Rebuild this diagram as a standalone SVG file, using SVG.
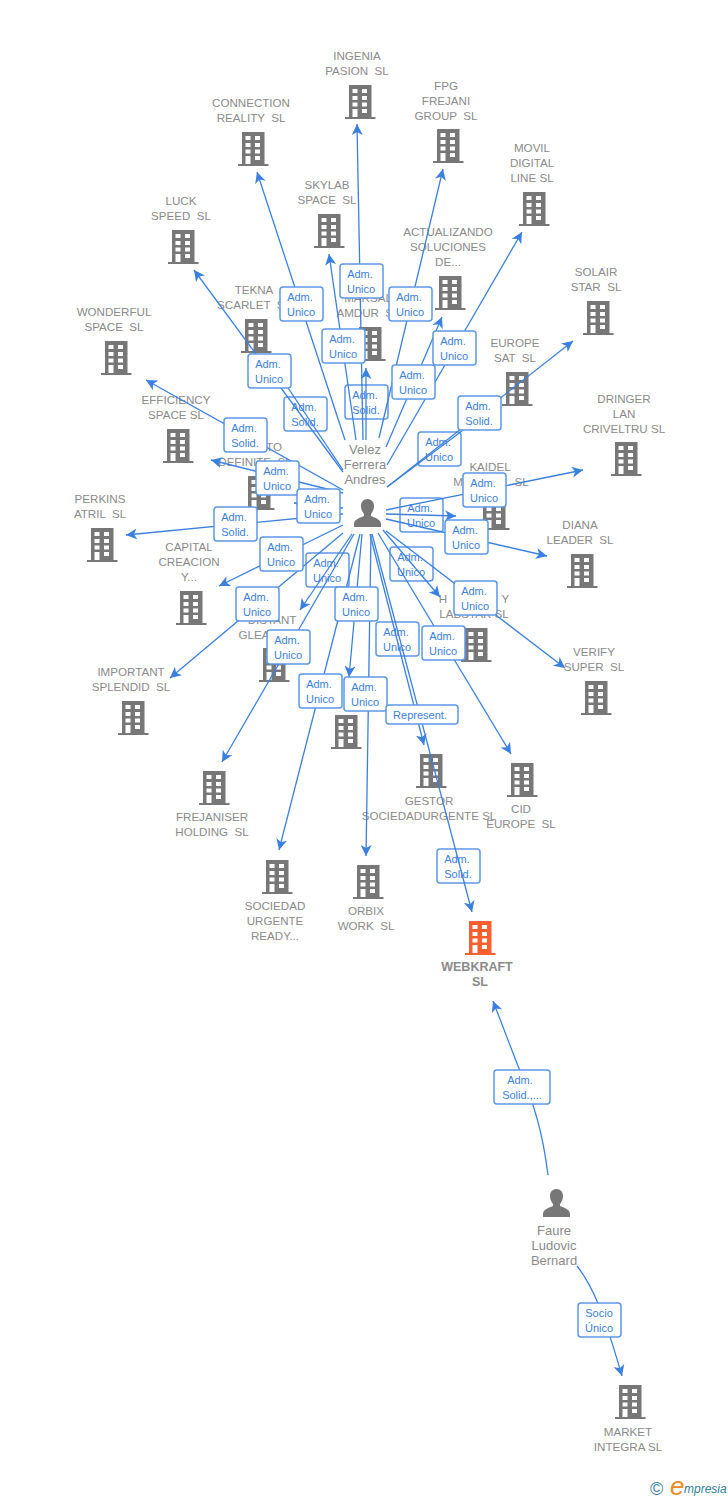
<svg xmlns="http://www.w3.org/2000/svg" width="728" height="1500" viewBox="0 0 728 1500">
<style>
.t{font-family:"Liberation Sans",Arial,sans-serif;font-size:11.6px;fill:#8a8a8a;text-anchor:middle;white-space:pre}
.b{font-weight:bold;font-size:12.5px}
.p{font-size:13px}
.c{fill:none;stroke:#3b80e0;stroke-width:1.3;marker-end:url(#a)}
.n{fill:none;stroke:#3b80e0;stroke-width:1.3}
.l rect{fill:#fff;stroke:#5c98e8;stroke-width:1.5}
.l text{font-family:"Liberation Sans",Arial,sans-serif;font-size:11px;fill:#3b80e0;text-anchor:middle;white-space:pre}
</style>
<defs>
<marker id="a" markerUnits="userSpaceOnUse" markerWidth="14" markerHeight="14" refX="11" refY="6" orient="auto"><path d="M11 6L0 0.5L3 6L0 11.500z" fill="#3b80e0"/></marker>
<symbol id="bd" overflow="visible"><path fill="currentColor" d="M-11 0h22.500v32h4v2h-30.500v-2h4z"/><path fill="#fff" d="M-7.500 4h5v4h-5zM2 4h5v4h-5zM-7.500 11h5v4h-5zM2 11h5v4h-5zM-7.500 17.500h5v4h-5zM2 17.500h5v4h-5zM-7.500 24h5v8h-5zM2 24h5v4h-5z"/></symbol>
<symbol id="pn" overflow="visible"><path fill="#777" d="M0 0c4 0 6.500 3 6.500 7c0 3.500-1.500 6-3 8v2c3 1.500 10 3 10 8v3h-27v-3c0-5 7-6.500 10-8v-2c-1.500-2-3-4.500-3-8c0-4 2.500-7 6.500-7z"/></symbol>
</defs>
<g id="nodes" color="#777">
<g id="n1"><use href="#bd" x="360" y="85"/><text class="t" x="357" y="60">INGENIA</text><text class="t" x="357" y="75">PASION  SL</text></g>
<g id="n2"><use href="#bd" x="253" y="132"/><text class="t" x="251" y="107">CONNECTION</text><text class="t" x="251" y="122">REALITY  SL</text></g>
<g id="n3"><use href="#bd" x="448" y="129"/><text class="t" x="446" y="90">FPG</text><text class="t" x="446" y="105">FREJANI</text><text class="t" x="446" y="120">GROUP  SL</text></g>
<g id="n4"><use href="#bd" x="534" y="192"/><text class="t" x="532" y="152">MOVIL</text><text class="t" x="532" y="167">DIGITAL</text><text class="t" x="532" y="182">LINE SL</text></g>
<g id="n5"><use href="#bd" x="329" y="214"/><text class="t" x="327" y="189">SKYLAB</text><text class="t" x="327" y="204">SPACE  SL</text></g>
<g id="n6"><use href="#bd" x="450" y="276"/><text class="t" x="448" y="236">ACTUALIZANDO</text><text class="t" x="448" y="251">SOLUCIONES</text><text class="t" x="448" y="266">DE...</text></g>
<g id="n7"><use href="#bd" x="183" y="230"/><text class="t" x="181" y="205">LUCK</text><text class="t" x="181" y="220">SPEED  SL</text></g>
<g id="n8"><use href="#bd" x="598" y="301"/><text class="t" x="596" y="276">SOLAIR</text><text class="t" x="596" y="291">STAR  SL</text></g>
<g id="n9"><use href="#bd" x="256" y="319"/><text class="t" x="254" y="294">TEKNA</text><text class="t" x="254" y="309">SCARLET  SL</text></g>
<g id="n10"><use href="#bd" x="370" y="327"/><text class="t" x="368" y="302">MARSAL</text><text class="t" x="368" y="317">AMDUR  SL</text></g>
<g id="n11"><use href="#bd" x="116" y="341"/><text class="t" x="114" y="316">WONDERFUL</text><text class="t" x="114" y="331">SPACE  SL</text></g>
<g id="n12"><use href="#bd" x="517" y="372"/><text class="t" x="515" y="347">EUROPE</text><text class="t" x="515" y="362">SAT  SL</text></g>
<g id="n13"><use href="#bd" x="178" y="429"/><text class="t" x="176" y="404">EFFICIENCY</text><text class="t" x="176" y="419">SPACE SL</text></g>
<g id="n14"><use href="#bd" x="626" y="442"/><text class="t" x="624" y="403">DRINGER</text><text class="t" x="624" y="418">LAN</text><text class="t" x="624" y="433">CRIVELTRU SL</text></g>
<g id="n15"><use href="#bd" x="259" y="476"/><text class="t" x="274" y="451">TO</text><text class="t" x="255" y="466">DEFINITE  SL</text></g>
<g id="n16"><use href="#bd" x="494" y="496"/><text class="t" x="490" y="471">KAIDEL</text><text class="t" x="491" y="486">M                SL</text></g>
<g id="n17"><use href="#bd" x="102" y="528"/><text class="t" x="100" y="503">PERKINS</text><text class="t" x="100" y="518">ATRIL  SL</text></g>
<g id="n18"><use href="#bd" x="582" y="554"/><text class="t" x="580" y="529">DIANA</text><text class="t" x="580" y="544">LEADER  SL</text></g>
<g id="n19"><use href="#bd" x="191" y="591"/><text class="t" x="189" y="551">CAPITAL</text><text class="t" x="189" y="566">CREACION</text><text class="t" x="189" y="581">Y...</text></g>
<g id="n20"><use href="#bd" x="476" y="628"/><text class="t" x="474" y="603">H                 Y</text><text class="t" x="474" y="618">LABSTAR SL</text></g>
<g id="n21"><use href="#bd" x="274" y="648"/><text class="t" x="272" y="624">DISTANT</text><text class="t" x="254" y="639">GLEA</text></g>
<g id="n22"><use href="#bd" x="133" y="701"/><text class="t" x="131" y="676">IMPORTANT</text><text class="t" x="131" y="691">SPLENDID  SL</text></g>
<g id="n23"><use href="#bd" x="596" y="681"/><text class="t" x="594" y="656">VERIFY</text><text class="t" x="594" y="671">SUPER  SL</text></g>
<g id="n24"><use href="#bd" x="346" y="715"/></g>
<g id="n25"><use href="#bd" x="431" y="754"/><text class="t" x="429" y="805">GESTOR</text><text class="t" x="429" y="820">SOCIEDADURGENTE SL</text></g>
<g id="n26"><use href="#bd" x="522" y="763"/><text class="t" x="521" y="813">CID</text><text class="t" x="521" y="828">EUROPE  SL</text></g>
<g id="n27"><use href="#bd" x="214" y="771"/><text class="t" x="212" y="821">FREJANISER</text><text class="t" x="212" y="836">HOLDING  SL</text></g>
<g id="n28"><use href="#bd" x="277" y="860"/><text class="t" x="275" y="910">SOCIEDAD</text><text class="t" x="275" y="925">URGENTE</text><text class="t" x="275" y="940">READY...</text></g>
<g id="n29"><use href="#bd" x="368" y="865"/><text class="t" x="366" y="915">ORBIX</text><text class="t" x="366" y="930">WORK  SL</text></g>
<g id="n30" color="#ff5f2e"><use href="#bd" x="480" y="921"/><text class="t b" x="477" y="971">WEBKRAFT</text><text class="t b" x="480" y="986">SL</text></g>
<g id="n31"><use href="#bd" x="630" y="1385"/><text class="t" x="628" y="1436">MARKET</text><text class="t" x="628" y="1451">INTEGRA SL</text></g>
<g id="p1"><use href="#pn" x="367.500" y="499"/><text class="t p" x="365" y="454">Velez</text><text class="t p" x="365" y="469">Ferrera</text><text class="t p" x="365" y="484">Andres</text></g>
<g id="p2"><use href="#pn" x="556.500" y="1189"/><text class="t p" x="554" y="1235">Faure</text><text class="t p" x="554" y="1250">Ludovic</text><text class="t p" x="554" y="1265">Bernard</text></g>
</g>
<g id="labels-under" class="l">
<g transform="translate(284,397)"><rect width="43" height="34" rx="3"/><text x="20" y="14">Adm.</text><text x="21" y="29">Solid.</text></g>
<g transform="translate(345,385)"><rect width="43" height="34" rx="3"/><text x="20" y="14">Adm.</text><text x="21" y="29">Solid.</text></g>
<g transform="translate(418,432)"><rect width="43" height="34" rx="3"/><text x="20" y="14">Adm.</text><text x="21" y="29">Unico</text></g>
<g transform="translate(400,498)"><rect width="43" height="34" rx="3"/><text x="20" y="14">Adm.</text><text x="21" y="29">Unico</text></g>
<g transform="translate(306,553)"><rect width="43" height="34" rx="3"/><text x="20" y="14">Adm.</text><text x="21" y="29">Unico</text></g>
<g transform="translate(390,547)"><rect width="43" height="34" rx="3"/><text x="20" y="14">Adm.</text><text x="21" y="29">Unico</text></g>
<g transform="translate(376,622)"><rect width="43" height="34" rx="3"/><text x="20" y="14">Adm.</text><text x="21" y="29">Unico</text></g>
<g transform="translate(437,849)"><rect width="43" height="34" rx="3"/><text x="20" y="14">Adm.</text><text x="21" y="29">Solid.</text></g>
</g>
<g id="connectors">
<path class="c" d="M363 440L357 124"/>
<path class="c" d="M345 440L257 172"/>
<path class="c" d="M356 440L329 254"/>
<path class="c" d="M379 438L443 169"/>
<path class="c" d="M387 465L522 232"/>
<path class="c" d="M386 447L442 317"/>
<path class="c" d="M366 440V368"/>
<path class="c" d="M343 472L194 270"/>
<path class="n" d="M343 470L268 358"/>
<path class="c" d="M343 490L146 380"/>
<path class="c" d="M343 493L211 460"/>
<path class="c" d="M343 508L294 503"/>
<path class="c" d="M387 487L573 341"/>
<path class="n" d="M387 487L490 410"/>
<path class="c" d="M386 510L583 470"/>
<path class="c" d="M386 514L456 516"/>
<path class="c" d="M386 519L547 556"/>
<path class="c" d="M343 514L126 535"/>
<path class="c" d="M343 525L219 586"/>
<path class="c" d="M343 533L170 678"/>
<path class="c" d="M352 534L300 610"/>
<path class="c" d="M354 534L222 762"/>
<path class="c" d="M360 534L279 850"/>
<path class="c" d="M362 534L349 677"/>
<path class="c" d="M371 534L366 856"/>
<path class="c" d="M370 534L424 745"/>
<path class="c" d="M372 534L472 912"/>
<path class="c" d="M383 530L440 597"/>
<path class="c" d="M378 533L511 754"/>
<path class="c" d="M386 531L565 668"/>
<path class="c" d="M548 1175C543 1135 535 1105 518 1066L493 1001"/>
<path class="c" d="M577 1266C592 1285 603 1310 622 1376"/>
</g>
<g id="labels-over" class="l">
<g transform="translate(340,264)"><rect width="43" height="34" rx="3"/><text x="20" y="14">Adm.</text><text x="21" y="29">Unico</text></g>
<g transform="translate(280,287)"><rect width="43" height="34" rx="3"/><text x="20" y="14">Adm.</text><text x="21" y="29">Unico</text></g>
<g transform="translate(389,287)"><rect width="43" height="34" rx="3"/><text x="20" y="14">Adm.</text><text x="21" y="29">Unico</text></g>
<g transform="translate(322,329)"><rect width="43" height="34" rx="3"/><text x="20" y="14">Adm.</text><text x="21" y="29">Unico</text></g>
<g transform="translate(433,331)"><rect width="43" height="34" rx="3"/><text x="20" y="14">Adm.</text><text x="21" y="29">Unico</text></g>
<g transform="translate(248,354)"><rect width="43" height="34" rx="3"/><text x="20" y="14">Adm.</text><text x="21" y="29">Unico</text></g>
<g transform="translate(392,365)"><rect width="43" height="34" rx="3"/><text x="20" y="14">Adm.</text><text x="21" y="29">Unico</text></g>
<g transform="translate(458,396)"><rect width="43" height="34" rx="3"/><text x="20" y="14">Adm.</text><text x="21" y="29">Solid.</text></g>
<g transform="translate(224,418)"><rect width="43" height="34" rx="3"/><text x="20" y="14">Adm.</text><text x="21" y="29">Solid.</text></g>
<g transform="translate(256,461)"><rect width="43" height="34" rx="3"/><text x="20" y="14">Adm.</text><text x="21" y="29">Unico</text></g>
<g transform="translate(297,489)"><rect width="43" height="34" rx="3"/><text x="20" y="14">Adm.</text><text x="21" y="29">Unico</text></g>
<g transform="translate(463,473)"><rect width="43" height="34" rx="3"/><text x="20" y="14">Adm.</text><text x="21" y="29">Unico</text></g>
<g transform="translate(445,520)"><rect width="43" height="34" rx="3"/><text x="20" y="14">Adm.</text><text x="21" y="29">Unico</text></g>
<g transform="translate(214,507)"><rect width="43" height="34" rx="3"/><text x="20" y="14">Adm.</text><text x="21" y="29">Solid.</text></g>
<g transform="translate(260,537)"><rect width="43" height="34" rx="3"/><text x="20" y="14">Adm.</text><text x="21" y="29">Unico</text></g>
<g transform="translate(454,581)"><rect width="43" height="34" rx="3"/><text x="20" y="14">Adm.</text><text x="21" y="29">Unico</text></g>
<g transform="translate(236,587)"><rect width="43" height="34" rx="3"/><text x="20" y="14">Adm.</text><text x="21" y="29">Unico</text></g>
<g transform="translate(335,587)"><rect width="43" height="34" rx="3"/><text x="20" y="14">Adm.</text><text x="21" y="29">Unico</text></g>
<g transform="translate(267,630)"><rect width="43" height="34" rx="3"/><text x="20" y="14">Adm.</text><text x="21" y="29">Unico</text></g>
<g transform="translate(422,626)"><rect width="43" height="34" rx="3"/><text x="20" y="14">Adm.</text><text x="21" y="29">Unico</text></g>
<g transform="translate(299,674)"><rect width="43" height="34" rx="3"/><text x="20" y="14">Adm.</text><text x="21" y="29">Unico</text></g>
<g transform="translate(344,677)"><rect width="43" height="34" rx="3"/><text x="20" y="14">Adm.</text><text x="21" y="29">Unico</text></g>
<g transform="translate(386,705)"><rect width="72" height="19" rx="3"/><text x="34" y="14">Represent.</text></g>
<g transform="translate(494,1070)"><rect width="56" height="34" rx="3"/><text x="26" y="14">Adm.</text><text x="28" y="29">Solid.,...</text></g>
<g transform="translate(578,1303)"><rect width="43" height="34" rx="3"/><text x="21" y="14">Socio</text><text x="21" y="29">Único</text></g>
</g>
<g id="logo">
<text x="650" y="1495" font-family="Liberation Sans,sans-serif" font-size="18" fill="#3d7f9e">©</text>
<text x="670" y="1495" font-family="Liberation Sans,sans-serif" font-style="italic" font-size="26" fill="#f08a24">e</text>
<text x="684" y="1493" font-family="Liberation Sans,sans-serif" font-style="italic" font-size="12" fill="#2f7f9b">mpresia</text>
</g>
</svg>
